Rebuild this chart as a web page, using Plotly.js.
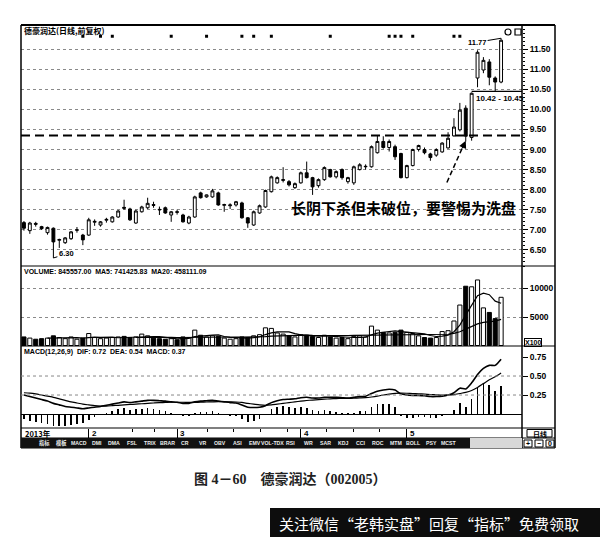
<!DOCTYPE html>
<html>
<head>
<meta charset="utf-8">
<script src="https://cdn.plot.ly/plotly-3.0.1.min.js"></script>
<style>
  html, body { margin: 0; padding: 0; background: #fff; }
  #chart { width: 600px; height: 537px; }
</style>
</head>
<body>
<div id="chart"></div>
<script>
// 德豪润达 (002005) daily K-line, 2013-01 .. 2013-05, forward-adjusted prices
const open  = [7.18,6.98,7.16,7.08,6.93,7.04,6.74,6.68,6.78,6.99, 6.87,6.87,7.19,7.12,7.24,7.20,7.32,7.56,7.52,7.17,
               7.45,7.55,7.63,7.51,7.55,7.37,7.45,7.37,7.17,7.32, 7.92,7.82,7.82,7.92,7.61,7.60,7.62,7.67,7.30,7.12,
               7.42,7.57,7.95,8.17,8.23,8.20,8.05,8.17,8.42,8.30, 8.10,8.25,8.50,8.32,8.50,8.20,8.17,8.50,8.57,8.57,
               8.92,9.20,9.05,9.07,8.90,8.30,8.60,9.00,9.00,8.89, 8.86,8.94,9.04,9.34,9.49,10.03,9.30,10.78,10.98,11.18,
               10.78,10.68];
const high  = [7.22,7.20,7.20,7.10,7.08,7.06,6.78,6.82,6.97,7.07, 6.90,7.30,7.26,7.22,7.30,7.34,7.49,7.75,7.55,7.50,
               7.60,7.80,7.70,7.58,7.58,7.47,7.50,7.40,7.35,7.85, 7.95,7.88,8.02,7.95,7.65,7.66,7.72,7.70,7.32,7.48,
               7.63,8.00,8.35,8.33,8.56,8.24,8.18,8.45,8.70,8.32, 8.28,8.58,8.52,8.48,8.53,8.32,8.60,8.66,8.63,9.10,
               9.35,9.33,9.25,9.12,8.92,8.62,9.02,9.12,9.05,8.92, 9.03,9.18,9.43,9.78,10.16,10.10,10.42,11.47,11.30,11.25,
               10.82,11.77];
const low   = [6.98,6.90,7.08,7.00,6.88,6.30,6.55,6.65,6.75,6.93, 6.62,6.85,7.10,7.08,7.18,7.18,7.30,7.50,7.22,7.15,
               7.43,7.52,7.55,7.37,7.40,7.20,7.38,7.18,7.14,7.30, 7.78,7.80,7.80,7.60,7.45,7.52,7.58,7.28,7.05,7.10,
               7.40,7.55,7.93,8.15,8.18,8.08,8.02,8.15,8.28,7.87, 8.05,8.22,8.30,8.28,8.25,8.15,8.12,8.48,8.50,8.55,
               8.90,9.02,8.95,8.74,8.28,8.28,8.58,8.95,8.88,8.72, 8.82,8.92,9.02,9.32,9.45,9.20,9.22,10.55,10.90,10.60,
               10.45,10.65];
const close = [7.04,7.17,7.14,7.03,7.06,6.70,6.76,6.80,6.95,7.00, 6.75,7.25,7.21,7.20,7.26,7.32,7.47,7.54,7.25,7.47,
               7.57,7.66,7.61,7.50,7.42,7.45,7.44,7.20,7.32,7.82, 7.80,7.87,7.97,7.62,7.63,7.62,7.70,7.30,7.17,7.45,
               7.60,7.98,8.32,8.30,8.25,8.12,8.15,8.42,8.30,8.07, 8.25,8.55,8.32,8.45,8.30,8.30,8.57,8.62,8.58,9.07,
               9.20,9.05,9.20,8.82,8.30,8.60,9.00,9.10,8.92,8.80, 9.00,9.16,9.28,9.56,9.98,9.33,10.40,11.42,11.22,10.80,
               10.68,11.72];

// volume, in lots of 100 shares
const volume = [1500,1300,1100,1200,1300,1700,1400,1200,1500,1100, 1300,2100,1400,1200,1300,1400,1500,1600,1400,1500,
                2000,1700,1300,1200,1100,1200,1000,1500,1400,2700, 1800,1500,1700,1600,1300,1100,1200,1500,1400,1700,
                1900,3100,3000,2200,2000,1700,1500,1900,1800,1600, 1400,1800,1500,1300,1400,1200,1600,1700,1500,3400,
                2700,2300,2200,2300,2700,2300,2100,1700,1400,1300, 1400,2450,2600,4300,7100,10400,10300,11500,6600,5800,
                4715.7,8455.57];

// MACD(12,26,9) lines and histogram
const dif  = [0.25,0.23,0.21,0.19,0.17,0.14,0.12,0.10,0.09,0.08, 0.07,0.08,0.09,0.10,0.115,0.13,0.145,0.16,0.15,0.16,
              0.17,0.18,0.18,0.175,0.17,0.16,0.155,0.14,0.14,0.16, 0.17,0.175,0.18,0.17,0.16,0.15,0.145,0.12,0.09,0.085,
              0.09,0.11,0.15,0.175,0.19,0.195,0.20,0.215,0.22,0.21, 0.21,0.22,0.22,0.22,0.215,0.21,0.22,0.23,0.235,0.27,
              0.30,0.315,0.325,0.315,0.265,0.25,0.245,0.245,0.24,0.23, 0.23,0.235,0.25,0.28,0.34,0.33,0.41,0.52,0.60,0.64,
              0.64,0.72];
const dea  = [0.28,0.275,0.265,0.25,0.235,0.22,0.20,0.18,0.16,0.145, 0.13,0.12,0.11,0.105,0.105,0.11,0.115,0.12,0.125,0.13,
              0.135,0.14,0.145,0.15,0.152,0.155,0.155,0.155,0.152,0.153, 0.155,0.158,0.16,0.162,0.162,0.16,0.158,0.152,0.14,0.13,
              0.12,0.115,0.12,0.13,0.14,0.15,0.16,0.17,0.178,0.184, 0.19,0.195,0.2,0.203,0.205,0.206,0.208,0.212,0.216,0.224,
              0.235,0.25,0.262,0.272,0.275,0.273,0.27,0.266,0.262,0.257, 0.253,0.25,0.25,0.255,0.27,0.285,0.31,0.35,0.40,0.45,
              0.49,0.54];
const macdHist = [-0.06,-0.09,-0.11,-0.12,-0.13,-0.16,-0.16,-0.16,-0.14,-0.13, -0.12,-0.08,-0.04,-0.01,0.02,0.04,0.06,0.08,0.05,0.06,
                  0.07,0.08,0.07,0.05,0.04,0.01,0.0,-0.03,-0.02,0.01, 0.03,0.03,0.04,0.02,0.0,-0.02,-0.03,-0.06,-0.10,-0.09,
                  -0.06,-0.01,0.06,0.09,0.10,0.09,0.08,0.09,0.08,0.05, 0.04,0.05,0.04,0.03,0.02,0.01,0.02,0.04,0.04,0.09,
                  0.13,0.13,0.13,0.09,-0.02,-0.05,-0.05,-0.04,-0.04,-0.05, -0.05,-0.03,0.0,0.05,0.14,0.09,0.20,0.34,0.40,0.38,
                  0.30,0.37];

// axis labels and markers
const priceTicks  = [6.5, 7.0, 7.5, 8.0, 8.5, 9.0, 9.5, 10.0, 10.5, 11.0, 11.5];
const volumeTicks = [5000, 10000];
const macdTicks   = [0.25, 0.50, 0.75];
const monthStart  = [11, 26, 47, 65];
const monthLabels = ['2', '3', '4', '5'];
const weekTicks   = [18.5, 22.2, 31.1, 35.5, 40.1, 44.7, 51.4, 55.9, 60.4];
const infoDays    = [10, 13, 15, 25, 31, 37, 39, 42, 52, 62, 63, 64, 66, 73, 74];
const supportLevel = 9.35;
const gapLow = 10.42, gapHigh = 10.45, gapDay = 76;
const lowDay = 5, lowPrice = 6.30;
const highDay = 81, highPrice = 11.77;
const washDay = 75;

const day = close.map((_, i) => i);

function movingAvg(arr, n) {
  return arr.map((_, i) => {
    if (i < n - 1) return null;
    let s = 0;
    for (let k = i - n + 1; k <= i; k++) s += arr[k];
    return s / n;
  });
}
const ma5 = movingAvg(volume, 5);
const ma20 = movingAvg(volume, 20);
const isUp = close.map((c, i) => c >= open[i]);

// page geometry (pixels)
const W = 600, H = 537;
const PX = x => x / W;
const PY = y => 1 - y / H;
const LEFT = 21, AXIS = 522, RIGHT = 555;
const T_PRICE = 25, T_VOL = 266, T_MACD = 346, T_DATE = 428, T_BTN = 438, BOTTOM = 448;
const dom = (t, b) => [PY(b), PY(t)];

const BLACK = '#000';
const tickFont = { family: 'Liberation Sans, Arial, sans-serif', size: 8.5, color: BLACK, weight: 'bold' };
const smallFont = { family: 'Liberation Sans, Arial, sans-serif', size: 7.5, color: BLACK, weight: 'bold' };
const cjk = 'Noto Sans CJK SC, sans-serif';

const traces = [
  {
    type: 'candlestick', x: day, open, high, low, close,
    xaxis: 'x', yaxis: 'y', whiskerwidth: 0,
    increasing: { line: { color: BLACK, width: 1 }, fillcolor: '#fff' },
    decreasing: { line: { color: BLACK, width: 1 }, fillcolor: BLACK },
    hoverinfo: 'skip', showlegend: false
  },
  {
    type: 'scatter', mode: 'markers', x: infoDays, y: infoDays.map(() => 11.82),
    xaxis: 'x', yaxis: 'y', marker: { symbol: 'square', size: 3, color: BLACK },
    hoverinfo: 'skip', showlegend: false
  },
  {
    type: 'bar', x: day, y: volume, xaxis: 'x', yaxis: 'y2', width: 0.7,
    marker: { color: isUp.map(u => u ? '#fff' : BLACK), line: { color: BLACK, width: 1 } },
    hoverinfo: 'skip', showlegend: false
  },
  {
    type: 'scatter', mode: 'lines', x: day, y: ma5, xaxis: 'x', yaxis: 'y2',
    line: { color: BLACK, width: 1.2 }, hoverinfo: 'skip', showlegend: false
  },
  {
    type: 'scatter', mode: 'lines', x: day, y: ma20, xaxis: 'x', yaxis: 'y2',
    line: { color: BLACK, width: 1.2 }, hoverinfo: 'skip', showlegend: false
  },
  {
    type: 'bar', x: day, y: macdHist, xaxis: 'x', yaxis: 'y3', width: 0.28,
    marker: { color: BLACK, line: { width: 0 } }, hoverinfo: 'skip', showlegend: false
  },
  {
    type: 'scatter', mode: 'lines', x: day, y: dif, xaxis: 'x', yaxis: 'y3',
    line: { color: BLACK, width: 1.6, shape: 'spline', smoothing: 0.6 }, hoverinfo: 'skip', showlegend: false
  },
  {
    type: 'scatter', mode: 'lines', x: day, y: dea, xaxis: 'x', yaxis: 'y3',
    line: { color: BLACK, width: 1.2, shape: 'spline', smoothing: 0.6 }, hoverinfo: 'skip', showlegend: false
  }
];

const yCommon = {
  side: 'right', anchor: 'x', ticks: 'outside', ticklen: 5, tickcolor: BLACK, tickwidth: 1,
  tickfont: tickFont, zeroline: false, showline: false, fixedrange: true
};

const shapes = [];
const line = (x0, y0, x1, y1, w = 1, extra = {}) => shapes.push(Object.assign({
  type: 'line', xref: 'paper', yref: 'paper', x0: PX(x0), y0: PY(y0), x1: PX(x1), y1: PY(y1),
  line: { color: BLACK, width: w }
}, extra));
const rect = (x0, y0, x1, y1, fill, lw = 0, extra = {}) => shapes.push(Object.assign({
  type: 'rect', xref: 'paper', yref: 'paper', x0: PX(x0), y0: PY(y0), x1: PX(x1), y1: PY(y1),
  fillcolor: fill, line: { color: BLACK, width: lw }
}, extra));

// frame and panel separators
line(LEFT, T_PRICE, RIGHT, T_PRICE, 2);
line(LEFT, T_PRICE, LEFT, BOTTOM, 1.5);
line(RIGHT, T_PRICE, RIGHT, BOTTOM, 1.5);
line(AXIS, T_PRICE, AXIS, BOTTOM, 1.5);
[T_VOL, T_MACD, T_DATE, T_BTN, BOTTOM].forEach(y => line(LEFT, y, RIGHT, y, 1.2));

// support line, gap marker, MACD guide lines
shapes.push({ type: 'line', xref: 'x domain', yref: 'y', x0: 0, x1: 1, y0: supportLevel, y1: supportLevel,
  line: { color: BLACK, width: 2, dash: '9px,5px' } });
shapes.push({ type: 'line', xref: 'x', yref: 'y', x0: gapDay, x1: 84.55, y0: gapHigh, y1: gapHigh,
  line: { color: BLACK, width: 1.2 } });
[0.25, 0.50].forEach(v => shapes.push({ type: 'line', xref: 'x domain', yref: 'y3', x0: 0, x1: 1, y0: v, y1: v,
  line: { color: '#888', width: 1, dash: 'dot' } }));
// dashed pointer toward the long black candle
shapes.push({ type: 'line', xref: 'x', yref: 'y', x0: 71.8, y0: 8.18, x1: 74.6, y1: 9.1,
  line: { color: BLACK, width: 1.5, dash: '5px,3px' } });

// icons at top right
shapes.push({ type: 'circle', xref: 'paper', yref: 'paper', x0: PX(505), x1: PX(511), y0: PY(35), y1: PY(29),
  line: { color: BLACK, width: 1.2 }, fillcolor: '#fff' });
rect(515, 29, 521, 35, '#fff', 1.2);

// button bar
rect(LEFT, T_BTN, 470, BOTTOM, '#111');
rect(470, T_BTN, AXIS, BOTTOM, '#d8d8d8');
[[524, 532], [535, 543], [546, 554]].forEach(([a, b]) => rect(a, 440, b, 447, '#fff', 1));
rect(527, 429.5, 552, 437, '#fff', 1);

// caption banner at the bottom
rect(270, 508, 600, 537, '#0d0d0d');

const annotations = [];
const note = (text, x, y, opts = {}) => annotations.push(Object.assign({
  text, xref: 'paper', yref: 'paper', x: PX(x), y: PY(y), showarrow: false,
  xanchor: 'left', yanchor: 'middle', font: smallFont
}, opts));

note('德豪润达(日线,前复权)', 22, 30, { font: { family: cjk, size: 8, color: BLACK, weight: 'bold' } });
note('VOLUME: 845557.00  MA5: 741425.83  MA20: 458111.09', 22, 271.5, { font: Object.assign({}, smallFont, { size: 7 }) });
note('MACD(12,26,9)  DIF: 0.72  DEA: 0.54  MACD: 0.37', 22, 352.5, { font: Object.assign({}, smallFont, { size: 7 }) });
note('2013年', 23, 433.5, { font: { family: cjk, size: 7.5, color: BLACK, weight: 'bold' } });
note('X100', 524, 342, { font: Object.assign({}, smallFont, { size: 7 }), bordercolor: BLACK, borderwidth: 1, borderpad: 0 });
note('日线', 539.5, 433.5, { xanchor: 'center', font: { family: cjk, size: 7, color: BLACK, weight: 'bold' } });
['+', '−', '0'].forEach((t, k) => note(t, 528 + k * 11, 443.5, { xanchor: 'center', font: Object.assign({}, smallFont, { size: 7 }) }));

// month labels on the date row
monthStart.forEach((d, k) => annotations.push({
  text: monthLabels[k], xref: 'x', yref: 'paper', x: d, y: PY(433.5), xanchor: 'left', yanchor: 'middle',
  xshift: 1, showarrow: false, font: Object.assign({}, smallFont, { size: 8 })
}));

// indicator buttons
const buttonLabels = ['指标', '模板', 'MACD', 'DMI', 'DMA', 'FSL', 'TRIX', 'BRAR', 'CR', 'VR', 'OBV', 'ASI',
  'EMV', 'VOL-TDX', 'RSI', 'WR', 'SAR', 'KDJ', 'CCI', 'ROC', 'MTM', 'BOLL', 'PSY', 'MCST'];
buttonLabels.forEach((t, k) => note(t, 44 + k * 17.6, 443.2, {
  xanchor: 'center', font: { family: 'Liberation Sans, ' + cjk, size: 5.2, color: '#eee', weight: 'bold' }
}));

// price annotations
annotations.push({
  text: highPrice.toFixed(2), xref: 'x', yref: 'y', x: highDay, y: highPrice, showarrow: true,
  arrowhead: 0, arrowwidth: 1, arrowcolor: BLACK, ax: -24, ay: 4, font: smallFont
});
annotations.push({
  text: lowPrice.toFixed(2), xref: 'x', yref: 'y', x: lowDay, y: lowPrice, showarrow: true,
  arrowhead: 0, arrowwidth: 1, arrowcolor: BLACK, ax: 13, ay: -4, font: smallFont
});
annotations.push({
  text: gapLow.toFixed(2) + ' - ' + gapHigh.toFixed(2), xref: 'x', yref: 'y', x: gapDay, y: gapHigh,
  xanchor: 'left', yanchor: 'top', xshift: 2, yshift: -1, showarrow: false,
  font: Object.assign({}, tickFont, { size: 8 })
});
annotations.push({
  text: '', xref: 'x', yref: 'y', x: washDay, y: 9.22, showarrow: true, arrowhead: 2, arrowsize: 1,
  arrowwidth: 1.5, arrowcolor: BLACK, ax: -4, ay: 9, standoff: 0
});
note('长阴下杀但未破位，要警惕为洗盘', 289, 207, { font: { family: cjk, size: 15, color: BLACK, weight: 'bold' } });

// figure caption and banner text
note('图 4－60　德豪润达（002005）', 290, 479, {
  xanchor: 'center', font: { family: 'Liberation Serif, ' + cjk, size: 14, color: '#222', weight: 'bold' }
});
note('关注微信“老韩实盘”回复“指标”免费领取', 277, 523, { font: { family: cjk, size: 15, color: '#fff' } });

const layout = {
  width: W, height: H, autosize: false,
  margin: { l: 0, r: 0, t: 0, b: 0, pad: 0 },
  paper_bgcolor: '#fff', plot_bgcolor: '#fff',
  showlegend: false, hovermode: false, bargap: 0,
  xaxis: {
    domain: [PX(LEFT), PX(AXIS)], range: [-0.5, 84.55], anchor: 'y3',
    showgrid: false, zeroline: false, showline: false, showticklabels: false,
    tickmode: 'array', tickvals: monthStart, ticks: 'outside', ticklen: 10, tickcolor: BLACK, tickwidth: 1,
    minor: { tickmode: 'array', tickvals: weekTicks, ticks: 'outside', ticklen: 3, tickcolor: BLACK, showgrid: false },
    rangeslider: { visible: false }, fixedrange: true
  },
  yaxis: Object.assign({}, yCommon, {
    domain: dom(T_PRICE, T_VOL), range: [6.1, 12.1],
    tickmode: 'array', tickvals: priceTicks, ticktext: priceTicks.map(v => v.toFixed(2)),
    showgrid: true, gridcolor: '#8a8a8a', griddash: 'dot', gridwidth: 1,
    minor: { tickmode: 'linear', tick0: 0, dtick: 0.1, ticks: 'outside', ticklen: 2, tickcolor: BLACK, showgrid: false }
  }),
  yaxis2: Object.assign({}, yCommon, {
    domain: dom(T_VOL, T_MACD), range: [-88, 13950],
    tickmode: 'array', tickvals: volumeTicks, ticktext: volumeTicks.map(String),
    showgrid: true, gridcolor: '#8a8a8a', griddash: 'dot', gridwidth: 1
  }),
  yaxis3: Object.assign({}, yCommon, {
    domain: dom(T_MACD, T_DATE), range: [-0.184, 0.895],
    tickmode: 'array', tickvals: macdTicks, ticktext: macdTicks.map(v => v.toFixed(2)),
    showgrid: false, zeroline: true, zerolinecolor: BLACK, zerolinewidth: 1
  }),
  shapes, annotations
};

Plotly.newPlot('chart', traces, layout, { staticPlot: true, displayModeBar: false, responsive: false });
</script>
</body>
</html>
